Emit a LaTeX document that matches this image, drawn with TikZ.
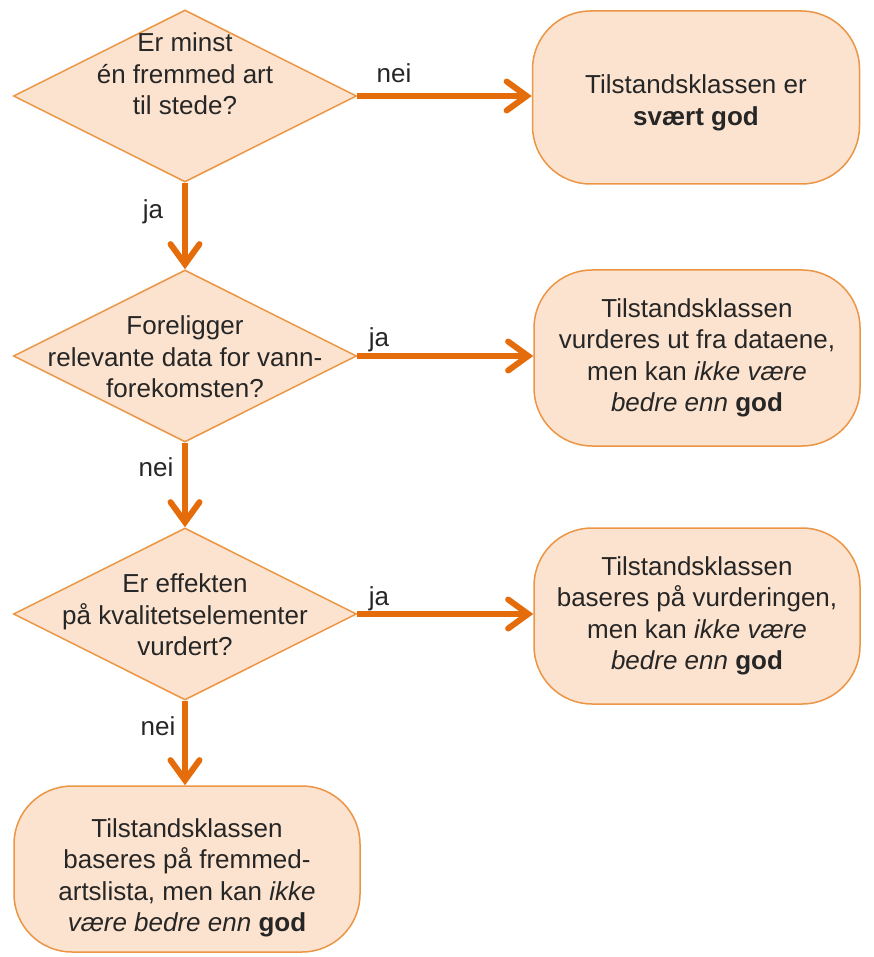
\documentclass[tikz,border=0pt]{standalone}
\usepackage{fontspec}
\setmainfont{Liberation Sans}
\usetikzlibrary{shapes.geometric,arrows.meta}
\definecolor{arrowc}{HTML}{E46C0A}
\definecolor{boxfill}{HTML}{FCE3CF}
\definecolor{boxline}{HTML}{EB9545}
\definecolor{txtc}{HTML}{262626}
\tikzset{
  dia/.style={diamond,draw=boxline,fill=boxfill,line width=1.5pt,inner sep=0pt,
    minimum width=343pt,minimum height=172pt},
  dtext/.style={text=txtc,align=center,font=\fontsize{26}{31.5}\selectfont},
  endbox/.style={rectangle,rounded corners=58pt,draw=boxline,fill=boxfill,line width=1.5pt,
    text=txtc,align=center,font=\fontsize{26}{31.5}\selectfont,inner sep=0pt},
  flow/.style={draw=arrowc,line width=6pt,-{Straight Barb[length=20pt,width=29pt,line cap=round]}},
  lab/.style={text=txtc,font=\fontsize{26}{30}\selectfont,anchor=base}
}
\begin{document}
\begin{tikzpicture}[x=1pt,y=-1pt]
\useasboundingbox (0,0) rectangle (873,957);
% decisions
\node[dia] (d1) at (185,96) {};
\node[dtext] (t1) at (185,74) {Er minst\\én fremmed art\\til stede?};
\node[dia] (d2) at (185,356) {};
\node[dtext] (t2) at (185,357) {Foreligger\\relevante data for vann-\\forekomsten?};
\node[dia] (d3) at (185,614) {};
\node[dtext] (t3) at (185,615) {Er effekten\\på kvalitetselementer\\vurdert?};
% outcomes
\node[endbox,minimum width=327pt,minimum height=173pt] (b1) at (696,97.5) {};
\node[dtext] (tb1) at (696,103) {Tilstandsklassen er\\\textbf{svært god}};
\node[endbox,minimum width=326pt,minimum height=176pt] (b2) at (697,358)
  {Tilstandsklassen\\vurderes ut fra dataene,\\men kan \textit{ikke være}\\\textit{bedre enn} \textbf{god}};
\node[endbox,minimum width=326pt,minimum height=176pt] (b3) at (697,616)
  {Tilstandsklassen\\baseres på vurderingen,\\men kan \textit{ikke være}\\\textit{bedre enn} \textbf{god}};
\node[endbox,minimum width=346pt,minimum height=166pt] (b4) at (187,869) {};
\node[dtext] (tb4) at (187,878)
  {Tilstandsklassen\\baseres på fremmed-\\artslista, men kan \textit{ikke}\\\textit{være bedre enn} \textbf{god}};
% connectors
\draw[flow] (d1.east) -- (d1.east -| b1.west);
\draw[flow] (d2.east) -- (d2.east -| b2.west);
\draw[flow] (d3.east) -- (d3.east -| b3.west);
\draw[flow] (d1.south) -- (d2.north);
\draw[flow] (d2.south) -- (d3.north);
\draw[flow] (d3.south) -- (b4.north -| d3.south);
% labels
\node[lab] (l1) at (394,83) {nei};
\node[lab] (l2) at (379,346) {ja};
\node[lab] (l3) at (379,605) {ja};
\node[lab] (l4) at (153,219) {ja};
\node[lab] (l5) at (156,476) {nei};
\node[lab] (l6) at (158,735) {nei};
\end{tikzpicture}
\end{document}
